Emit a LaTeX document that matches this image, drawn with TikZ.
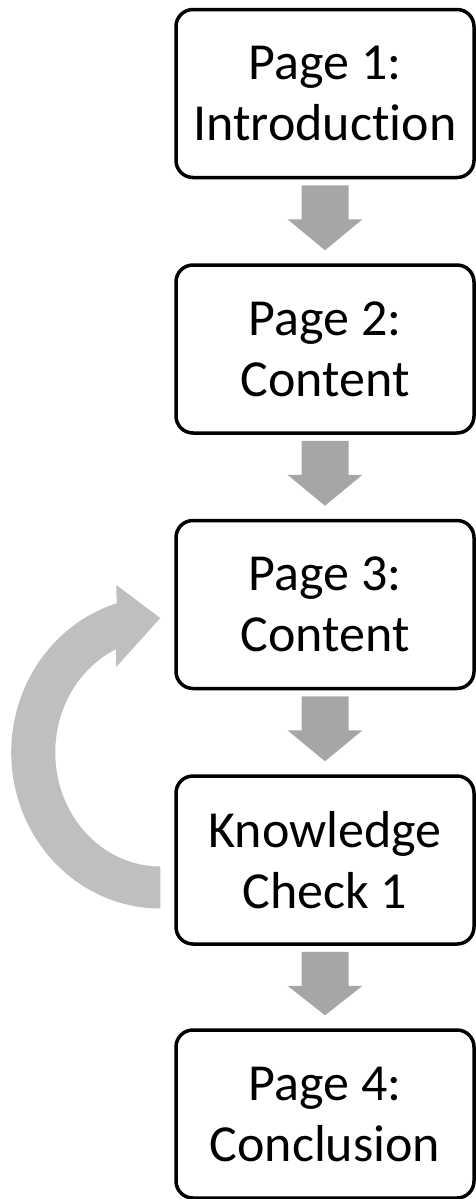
\documentclass[tikz,border=0pt]{standalone}
\usepackage{fontspec}
\setmainfont{Carlito}[Ligatures=CommonOff]
\usetikzlibrary{calc}

\definecolor{flowgray}{RGB}{166,166,166}
\definecolor{loopgray}{RGB}{191,191,191}

\tikzset{
  page/.style={draw=black,line width=1.75pt,rounded corners=8.5pt,fill=white,
    minimum width=149pt,minimum height=84pt,align=center,inner sep=0pt,
    font=\fontsize{26}{30.5}\selectfont},
  flowarrow/.style={fill=flowgray},
  loopback/.style={fill=loopgray}
}

\begin{document}
\begin{tikzpicture}[x=0.5pt,y=-0.5pt]
\useasboundingbox (0,0) rectangle (476,1199);
                \node[page](p1)at(325, 93.5){Page 1:\\Introduction};
                \node[page](p2)at(325, 349){Page 2:\\Content};
                \node[page](p3)at(325, 604.5){Page 3:\\Content};
                \node[page](check)at(325, 860){Knowledge\\Check 1};
                \node[page](p4)at(325, 1114){Page 4:\\Conclusion};
                % block arrows down the column
                \foreach \a/\b in {p1/p2,p2/p3,p3/check,check/p4}
                  \fill[flowarrow] ($(\a.south)+(-23.5,6)$) -- ($(\a.south)+(-23.5,40)$)
                    -- ($(\a.south)+(-37.5,40)$) -- ($(\b.north)+(0,-13)$)
                    -- ($(\a.south)+(37.5,40)$) -- ($(\a.south)+(23.5,40)$)
                    -- ($(\a.south)+(23.5,6)$) -- cycle;
                % loop back from the check to page 3
                \coordinate (loopc) at ($(check.west)+(-14,-107.5)$);
                \coordinate (loophead) at ($(p3.west)+(-14,13.5)$);
                \fill[loopback] ($(loopc)+(-107:149 and 156)$)
                  arc[start angle=-107,end angle=-270,x radius=149,y radius=156]
                  -- ($(loopc)+(-270:105 and 114)$)
                  arc[start angle=-270,end angle=-115,x radius=105,y radius=114]
                  -- ($(loophead)+(-44,49)$) -- (loophead) -- ($(loophead)+(-44,-33)$) -- cycle;
            \end{tikzpicture}
\end{document}
